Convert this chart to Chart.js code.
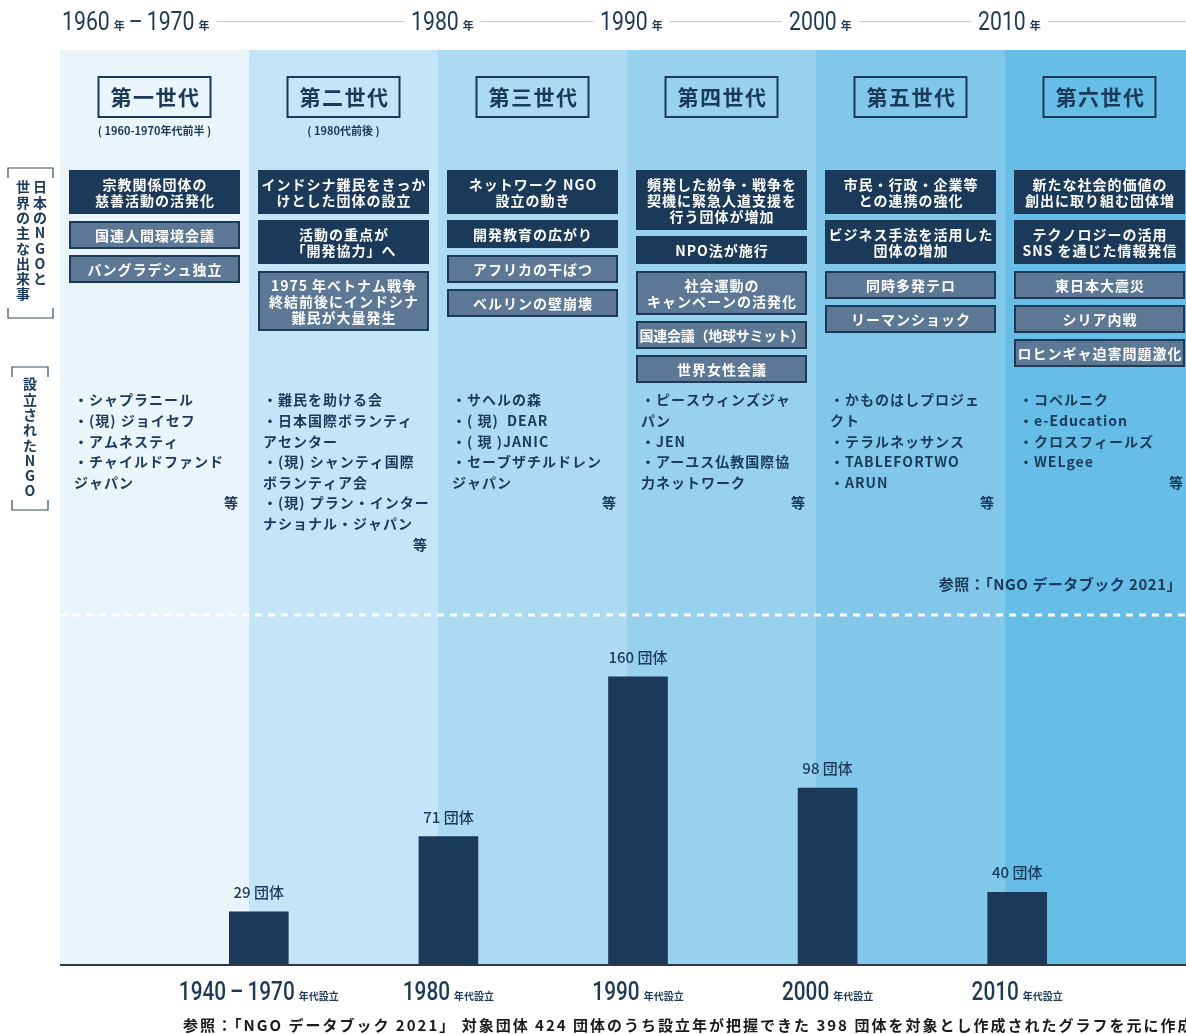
<!DOCTYPE html>
<html lang="ja">
<head>
<meta charset="utf-8">
<title>日本のNGOの歩み</title>
<script src="https://cdn.jsdelivr.net/npm/chart.js@4.4.1/dist/chart.umd.min.js"></script>
<style>
  html, body { margin: 0; padding: 0; background: #fff; }
  #wrap { width: 1186px; height: 1034px; }
</style>
</head>
<body>
<div id="wrap"><canvas id="ngoChart" width="1186" height="1034"></canvas></div>
<script>
// ---- data ----
const decades = ['1940 – 1970', '1980', '1990', '2000', '2010'];
const ngoCounts = [29, 71, 160, 98, 40];
const decadeSuffix = '年代設立';
const countUnit = '団体';

const timelineYears = ['1960年 – 1970年', '1980年', '1990年', '2000年', '2010年'];
const generations = ['第一世代', '第二世代', '第三世代', '第四世代', '第五世代', '第六世代'];
const generationPeriods = ['( 1960-1970年代前半 )', '( 1980代前後 )', '', '', '', ''];

// Japanese NGO trends (dark boxes)
const ngoTrends = [
  [['宗教関係団体の', '慈善活動の活発化']],
  [['インドシナ難民をきっか', 'けとした団体の設立'], ['活動の重点が', '「開発協力」へ']],
  [['ネットワーク NGO', '設立の動き'], ['開発教育の広がり']],
  [['頻発した紛争・戦争を', '契機に緊急人道支援を', '行う団体が増加'], ['NPO法が施行']],
  [['市民・行政・企業等', 'との連携の強化'], ['ビジネス手法を活用した', '団体の増加']],
  [['新たな社会的価値の', '創出に取り組む団体増'], ['テクノロジーの活用', 'SNS を通じた情報発信']]
];
// world events (light boxes)
const worldEvents = [
  [['国連人間環境会議'], ['バングラデシュ独立']],
  [['1975 年ベトナム戦争', '終結前後にインドシナ', '難民が大量発生']],
  [['アフリカの干ばつ'], ['ベルリンの壁崩壊']],
  [['社会運動の', 'キャンペーンの活発化'], ['国連会議（地球サミット）'], ['世界女性会議']],
  [['同時多発テロ'], ['リーマンショック']],
  [['東日本大震災'], ['シリア内戦'], ['ロヒンギャ迫害問題激化']]
];
// NGOs founded in each generation
const foundedNgos = [
  ['・シャプラニール', '・(現) ジョイセフ', '・アムネスティ', '・チャイルドファンド', 'ジャパン'],
  ['・難民を助ける会', '・日本国際ボランティ', 'アセンター', '・(現) シャンティ国際', 'ボランティア会', '・(現) プラン・インター', 'ナショナル・ジャパン'],
  ['・サヘルの森', '・( 現)  DEAR', '・( 現 )JANIC', '・セーブザチルドレン', 'ジャパン'],
  ['・ピースウィンズジャ', 'パン', '・JEN', '・アーユス仏教国際協', '力ネットワーク'],
  ['・かものはしプロジェ', 'クト', '・テラルネッサンス', '・TABLEFORTWO', '・ARUN'],
  ['・コペルニク', '・e-Education', '・クロスフィールズ', '・WELgee']
];
const etcMark = '等';
const sideLabelEvents = ['日本のNGOと', '世界の主な出来事'];
const sideLabelNgos = '設立されたNGO';
const sourceNote = '参照：「NGO データブック 2021」';
const footerNote = '参照：「NGO データブック 2021」 対象団体 424 団体のうち設立年が把握できた 398 団体を対象とし作成されたグラフを元に作成';

// ---- styles / layout ----
const NAVY = '#1b3a5a';
const BOX_LIGHT = '#5c7895';
const CJK = "'Noto Sans CJK JP', 'Noto Sans', sans-serif";
const NUM = "Roboto, 'Noto Sans', sans-serif";
const bandColors = ['#eaf4fb', '#c3e5f7', '#abdaf1', '#97d1ee', '#80c7ea', '#66bde6'];
const BAND_X0 = 60, BAND_W = 189, BAND_TOP = 50, BASE_Y = 964;

function bandLeft(i) { return BAND_X0 + i * BAND_W; }

// digits in a condensed face, the rest (年, 年代設立) small
function drawMixed(c, text, x, y, o) {
  const runs = text.match(/[0-9–]+|[^0-9–\s]+/g);
  const isBig = r => /[0-9–]/.test(r[0]);
  const setFont = r => {
    c.font = isBig(r) ? `${o.weight} ${o.big}px ${NUM}` : `bold ${o.small}px ${CJK}`;
  };
  const widths = runs.map(r => {
    setFont(r);
    return c.measureText(r).width * (isBig(r) ? o.squeeze : 1);
  });
  const gap = 4;
  const total = widths.reduce((a, b) => a + b, 0) + gap * (runs.length - 1);
  let cx = o.align === 'center' ? x - total / 2 : x;
  c.textAlign = 'left';
  c.textBaseline = 'alphabetic';
  runs.forEach((r, i) => {
    c.save();
    c.translate(cx, y);
    if (isBig(r)) c.scale(o.squeeze, 1);
    setFont(r);
    c.fillText(r, 0, 0);
    c.restore();
    cx += widths[i] + gap;
  });
  return total;
}

function drawBox(c, x, y, w, lines, dark) {
  const h = lines.length * 16 + 12;
  c.fillStyle = dark ? NAVY : BOX_LIGHT;
  c.fillRect(x, y, w, h);
  if (!dark) {
    c.strokeStyle = NAVY;
    c.lineWidth = 2;
    c.strokeRect(x + 1, y + 1, w - 2, h - 2);
  }
  c.fillStyle = '#fff';
  c.font = `bold 14px ${CJK}`;
  c.textAlign = 'center';
  c.textBaseline = 'middle';
  lines.forEach((l, k) => {
    c.letterSpacing = '1px';
    const tw = c.measureText(l).width;
    if (tw > w - 6) c.letterSpacing = (1 - (tw - (w - 6)) / l.length).toFixed(2) + 'px';
    c.fillText(l, x + w / 2 + 0.5, y + 14 + k * 16 + 1);
  });
  c.letterSpacing = '0px';
  return h;
}

function drawVertical(c, text, x, y, pitch) {
  c.textAlign = 'center';
  c.textBaseline = 'middle';
  [...text].forEach((ch, k) => c.fillText(ch, x, y + k * pitch));
}

function drawBracket(c, x1, x2, y1, y2) {
  c.strokeStyle = '#3a4a5a';
  c.lineWidth = 1.2;
  c.beginPath();
  c.moveTo(x1, y1 + 10); c.lineTo(x1, y1); c.lineTo(x2, y1); c.lineTo(x2, y1 + 10);
  c.moveTo(x1, y2 - 10); c.lineTo(x1, y2); c.lineTo(x2, y2); c.lineTo(x2, y2 - 10);
  c.stroke();
}

const backdrop = {
  id: 'backdrop',
  beforeDraw(chart) {
    const c = chart.ctx;
    c.save();
    c.fillStyle = '#fff';
    c.fillRect(0, 0, chart.width, chart.height);
    bandColors.forEach((col, i) => {
      c.fillStyle = col;
      c.fillRect(bandLeft(i), BAND_TOP, BAND_W, BASE_Y - BAND_TOP);
    });
    // dotted divider between the timeline and the bar chart
    c.strokeStyle = '#fff';
    c.lineWidth = 3;
    c.setLineDash([7, 6]);
    c.beginPath();
    c.moveTo(BAND_X0, 615);
    c.lineTo(chart.width, 615);
    c.stroke();
    c.restore();
  }
};

const overlay = {
  id: 'overlay',
  afterDatasetsDraw(chart) {
    const c = chart.ctx;
    const meta = chart.getDatasetMeta(0);
    c.save();
    // base line
    c.strokeStyle = '#2c3a48';
    c.lineWidth = 2;
    c.beginPath();
    c.moveTo(BAND_X0, BASE_Y + 1);
    c.lineTo(chart.width, BASE_Y + 1);
    c.stroke();
    // value labels
    c.fillStyle = NAVY;
    c.font = `500 15px ${CJK}`;
    c.textAlign = 'center';
    c.textBaseline = 'alphabetic';
    meta.data.forEach((bar, i) => {
      c.fillText(ngoCounts[i] + ' ' + countUnit, bar.x, bar.y - 14);
    });
    // decade labels under the axis
    decades.forEach((d, i) => {
      const x = chart.scales.x.getPixelForValue(i);
      drawMixed(c, d + decadeSuffix, x, 1000, { big: 26, small: 10, squeeze: 0.8, weight: 500, align: 'center' });
    });
    c.restore();
  },
  afterDraw(chart) {
    const c = chart.ctx;
    c.save();

    // top timeline
    const starts = timelineYears.map((t, i) => i === 0 ? BAND_X0 + 2 : bandLeft(i + 1) - 27);
    starts.forEach((sx, i) => {
      c.fillStyle = NAVY;
      const w = drawMixed(c, timelineYears[i], sx, 30, { big: 25, small: 11, squeeze: 0.85, weight: 400, align: 'left' });
      const end = i < starts.length - 1 ? starts[i + 1] - 7 : chart.width;
      c.strokeStyle = '#c9c9c9';
      c.lineWidth = 1;
      c.beginPath();
      c.moveTo(sx + w + 7, 21.5);
      c.lineTo(end, 21.5);
      c.stroke();
    });

    // generations
    generations.forEach((g, i) => {
      const cx = bandLeft(i) + BAND_W / 2;
      c.strokeStyle = NAVY;
      c.lineWidth = 2;
      c.strokeRect(cx - 56, 77, 112, 40);
      c.fillStyle = NAVY;
      c.font = `bold 21px ${CJK}`;
      c.letterSpacing = '1.5px';
      c.textAlign = 'center';
      c.textBaseline = 'middle';
      c.fillText(g, cx + 1, 97);
      c.letterSpacing = '0px';
      if (generationPeriods[i]) {
        c.font = `bold 11px ${CJK}`;
        c.fillText(generationPeriods[i], cx, 131);
      }

      // event boxes
      let y = 170;
      ngoTrends[i].forEach(lines => { y += drawBox(c, bandLeft(i) + 9, y, 171, lines, true) + 6; });
      y += 1;
      worldEvents[i].forEach(lines => { y += drawBox(c, bandLeft(i) + 9, y, 171, lines, false) + 6; });

      // founded NGOs
      c.fillStyle = NAVY;
      c.font = `bold 14px ${CJK}`;
      c.letterSpacing = '1px';
      c.textAlign = 'left';
      c.textBaseline = 'middle';
      const items = foundedNgos[i];
      items.forEach((t, k) => c.fillText(t, bandLeft(i) + 14, 400 + k * 20.6));
      c.textAlign = 'right';
      c.fillText(etcMark, bandLeft(i) + BAND_W - 10, 400 + items.length * 20.6);
      c.letterSpacing = '0px';
    });

    // side labels
    c.fillStyle = NAVY;
    c.font = `bold 14px ${CJK}`;
    drawVertical(c, sideLabelEvents[0], 40, 187, 15.3);
    drawVertical(c, sideLabelEvents[1], 23, 187, 15.3);
    drawBracket(c, 8, 53, 168, 318);
    drawVertical(c, sideLabelNgos, 30, 384, 15.3);
    drawBracket(c, 12, 48, 367, 510);

    // source notes
    c.fillStyle = NAVY;
    c.font = `bold 15px ${CJK}`;
    c.letterSpacing = '0.5px';
    c.textAlign = 'right';
    c.textBaseline = 'middle';
    c.fillText(sourceNote, 1182, 584);
    c.fillStyle = '#1a1a1a';
    c.font = `bold 15px ${CJK}`;
    c.letterSpacing = '2px';
    c.textAlign = 'left';
    c.fillText(footerNote, 183, 1025);
    c.letterSpacing = '0px';
    c.restore();
  }
};

const ctx = document.getElementById('ngoChart').getContext('2d');
new Chart(ctx, {
  type: 'bar',
  data: {
    labels: decades,
    datasets: [{
      label: '設立団体数',
      data: ngoCounts,
      backgroundColor: NAVY,
      barThickness: 59
    }]
  },
  options: {
    responsive: false,
    animation: false,
    layout: { padding: { left: 164, right: 74, top: 623, bottom: 70 } },
    scales: {
      x: { display: false },
      y: { display: false, min: 0, max: 190 }
    },
    plugins: {
      legend: { display: false },
      tooltip: { enabled: false }
    }
  },
  plugins: [backdrop, overlay]
});
</script>
</body>
</html>
